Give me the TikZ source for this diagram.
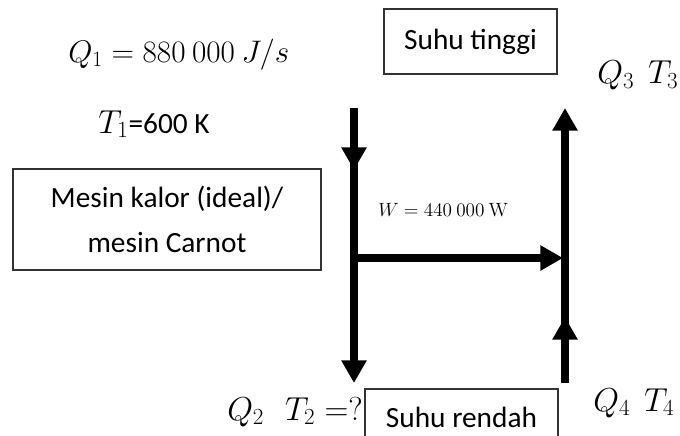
\documentclass[tikz,border=0pt]{standalone}
\usepackage[no-math]{fontspec}
\setmainfont{Carlito}
\usetikzlibrary{arrows.meta}
\tikzset{
  box/.style={
    draw=black!80,line width=0.8pt,align=center,inner sep=0pt,
    font=\fontsize{22}{34}\selectfont
  },
  qty/.style={inner sep=0pt,anchor=base west,font=\fontsize{23}{27}\selectfont},
  flow/.style={line width=5.4pt,-{Triangle[length=17pt,width=18pt]}}
}

\begin{document}
\begin{tikzpicture}[x=0.75pt,y=-0.75pt]
    \useasboundingbox (0,0) rectangle (680,435);
    \clip (0,0) rectangle (680,435);

    % reservoirs and engine
    \node[box,minimum width=129.75pt,minimum height=48.75pt] (hotbox)
      at (470.5,41.5) {Suhu tinggi};
    \node[box,minimum width=231pt,minimum height=75.75pt] (engine)
      at (167,219.5) {Mesin kalor (ideal)/\\mesin Carnot};
    \node[box,minimum width=144.75pt,minimum height=42pt] (coldbox)
      at (461.5,417) {Suhu rendah};

    % quantities
    \node[qty,scale=0.94,transform shape] (q1) at (68,62)
      {$Q_1 = 880\ 000\ J/s$};
    \node[qty] (t1) at (98,133)
      {$T_1$\fontsize{22}{26}\selectfont=600 K};
    \node[qty,font=\fontsize{14}{16}\selectfont] (work) at (378,216)
      {$W = 440\ 000\ \mathrm{W}$};
    \node[qty] (q3) at (597,84) {$Q_3\ \ T_3$};
    \node[qty] (q2) at (227,420) {$Q_2\ \ \ T_2\;{=}{?}$};
    \node[qty] (q4) at (593,411) {$Q_4\ \ T_4$};

    % heat and work flow
    \coordinate (hotin) at (354,108);
    \coordinate (hotmid) at (354,170);
    \coordinate (coldout) at (354,383);
    \coordinate (wfrom) at (354,258);
    \coordinate (wto) at (563,258);
    \coordinate (pumpin) at (565,383);
    \coordinate (pumpmid) at (565,317);
    \coordinate (pumpout) at (565,108);

    \draw[flow] (hotin) -- (coldout);
    \draw[flow] (hotin) -- (hotmid);
    \draw[flow] (wfrom) -- (wto);
    \draw[flow] (pumpin) -- (pumpout);
    \draw[flow] (pumpin) -- (pumpmid);
\end{tikzpicture}
\end{document}
